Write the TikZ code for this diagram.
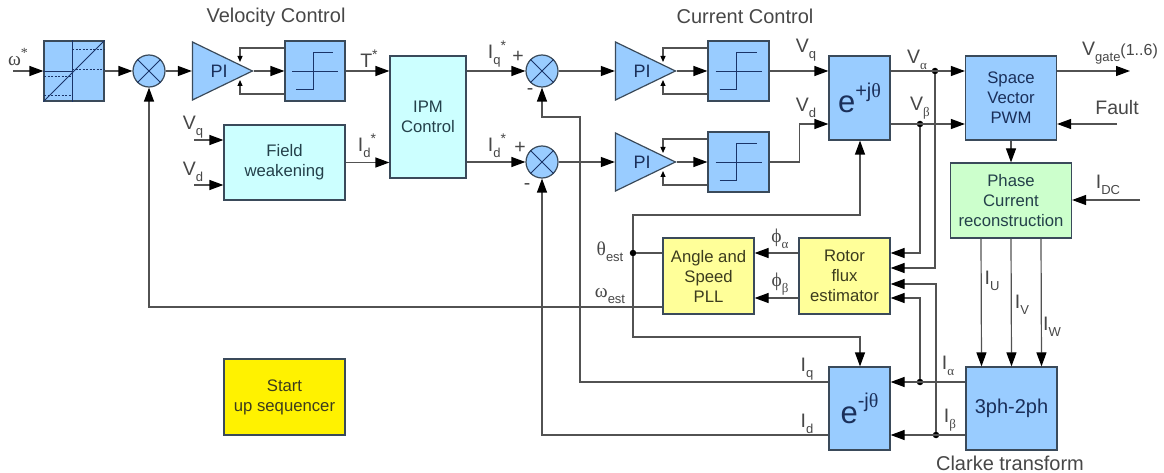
\documentclass[tikz,border=0pt]{standalone}
\usepackage{fontspec}
\setmainfont{Liberation Sans}
\newfontfamily\gk{Liberation Serif}
\usetikzlibrary{arrows.meta,shapes.geometric,calc}
\newcommand{\lsb}[1]{\raisebox{-0.3em}{\fontsize{13}{13}\selectfont #1}}
\newcommand{\lsp}[1]{\raisebox{0.4em}{\fontsize{14}{14}\selectfont #1}}
\newcommand{\stepglyph}[1]{%
  \draw[glyph] ([shift={(-23,0)}]#1.center) -- ([shift={(23,0)}]#1.center);
  \draw[glyph] ([shift={(-19,18)}]#1.center) -- ([shift={(-2,18)}]#1.center) -- ([shift={(-2,-19)}]#1.center) -- ([shift={(18,-19)}]#1.center);}
\newcommand{\sumglyph}[1]{%
  \draw[glyph,line width=.8pt] (#1.45) -- (#1.225);
  \draw[glyph,line width=.8pt] (#1.135) -- (#1.315);}
\newcommand{\pifb}[2]{%
  \draw[fbarrow] ([shift={(0,-23)}]#2.west) -| ([shift={(-14,-9)}]#1.east);
  \draw[fbarrow] ([shift={(0,23)}]#2.west) -| ([shift={(-14,9)}]#1.east);
  \draw[conn] (#1.east) -- (#2.west);}
\definecolor{blue1}{HTML}{99CCFF}
\definecolor{cyan1}{HTML}{CCFFFF}
\definecolor{yellow1}{HTML}{FFFF99}
\definecolor{green1}{HTML}{CCFFCC}
\definecolor{navy1}{HTML}{1A2F5A}
\definecolor{teal1}{HTML}{24404A}
\definecolor{olive1}{HTML}{3C3C1E}
\definecolor{edge1}{HTML}{3A4A5A}
\definecolor{ink1}{HTML}{1A3468}
\tikzset{
  x=1pt,y=-1pt,
  conn/.style={draw=black!68,line width=1.2pt,-{Triangle[length=14pt,width=10pt,color=black]}},
  plainconn/.style={draw=black!68,line width=1.2pt},
  fbarrow/.style={draw=black!68,line width=1.2pt,-{Triangle[length=6pt,width=5pt,color=black]}},
  glyph/.style={draw=ink1,line width=.9pt},
  dotted glyph/.style={draw=ink1,line width=.9pt,dash pattern=on 2pt off 1.5pt},
  bb/.style={draw=edge1,line width=1.2pt,inner sep=0pt,align=center,font=\fontsize{16.7}{20}\selectfont},
  bluebox/.style={bb,fill=blue1,text=navy1},
  cyanbox/.style={bb,fill=cyan1,text=teal1},
  yellowbox/.style={bb,fill=yellow1,text=olive1},
  greenbox/.style={bb,fill=green1,text=teal1},
  startbox/.style={bb,fill=yellow,text=olive1},
  sumnode/.style={circle,draw=edge1,line width=1.2pt,fill=blue1,minimum size=32pt,inner sep=0pt},
  pinode/.style={isosceles triangle,isosceles triangle stretches,draw=edge1,line width=1.2pt,fill=blue1,text=navy1,minimum width=58pt,minimum height=60pt,inner sep=0pt,anchor=east,font=\fontsize{18}{18}\selectfont},
  jdot/.style={circle,fill=black,minimum size=6.5pt,inner sep=0pt},
  lab/.style={text=black!72,inner sep=0pt,font=\fontsize{19.5}{20}\selectfont},
  title/.style={text=black!72,inner sep=0pt,font=\fontsize{20}{20}\selectfont},
}
\begin{document}
\begin{tikzpicture}
\useasboundingbox (0,0) rectangle (1164,473);
\fill[white] (0,0) rectangle (1164,473);

% blocks
\node[bluebox,minimum width=60pt,minimum height=60pt] (lim) at (74,71) {};
\node[sumnode] (s1) at (149,71) {};
\node[pinode] (pi1) at (254,71) {\hspace*{13pt}PI};
\node[bluebox,minimum width=60pt,minimum height=60pt] (st1) at (315,71) {};
\node[cyanbox,minimum width=76pt,minimum height=122pt] (ipm) at (428,117) {IPM\\Control};
\node[cyanbox,minimum width=121pt,minimum height=75pt] (fw) at (284.5,162.5) {Field\\weakening};
\node[sumnode] (s2) at (542,71) {};
\node[sumnode] (s3) at (542,162) {};
\node[pinode] (pi2) at (677,71) {\hspace*{13pt}PI};
\node[pinode] (pi3) at (677,162) {\hspace*{13pt}PI};
\node[bluebox,minimum width=61pt,minimum height=60pt] (st2) at (738.5,71) {};
\node[bluebox,minimum width=61pt,minimum height=60pt] (st3) at (738.5,162) {};
\node[bluebox,minimum width=61pt,minimum height=84pt] (ep) at (859.5,98) {\fontsize{31}{31}\selectfont e\raisebox{0.5em}{\fontsize{20}{20}\selectfont +j{\gk θ}}};
\node[bluebox,minimum width=91pt,minimum height=84pt] (svm) at (1011,98) {Space\\Vector\\PWM};
\node[greenbox,minimum width=121pt,minimum height=75pt] (pcr) at (1011,200.5) {Phase\\Current\\reconstruction};
\node[yellowbox,minimum width=91pt,minimum height=76pt] (pll) at (708.5,276) {Angle and\\Speed\\PLL};
\node[yellowbox,minimum width=91pt,minimum height=76pt] (rfe) at (844.5,276) {Rotor\\flux\\estimator};
\node[bluebox,minimum width=61pt,minimum height=83pt] (em) at (859.5,408.5) {\fontsize{31}{31}\selectfont e\raisebox{0.5em}{\fontsize{20}{20}\selectfont -j{\gk θ}}};
\node[bluebox,minimum width=91pt,minimum height=83pt] (cl) at (1011.5,408.5) {\fontsize{20}{20}\selectfont 3ph-2ph};
\node[startbox,minimum width=121pt,minimum height=76pt] (start) at (284.5,397) {Start\\up sequencer};

% glyphs
\sumglyph{s1}\sumglyph{s2}\sumglyph{s3}
\stepglyph{st1}\stepglyph{st2}\stepglyph{st3}
\draw[glyph] ([shift={(-2,0)}]lim.north) -- ([shift={(-2,0)}]lim.south);
\draw[glyph] (lim.west) -- (lim.center);
\draw[glyph] (lim.south west) -- (lim.north east);
\draw[dotted glyph] ([shift={(-2,-22)}]lim.center) -- ([shift={(30,-22)}]lim.center);
\draw[dotted glyph] ([shift={(-2,-2)}]lim.center) -- ([shift={(30,-2)}]lim.center);
\draw[dotted glyph] ([shift={(-30,5)}]lim.center) -- ([shift={(-2,5)}]lim.center);
\draw[dotted glyph] ([shift={(-30,24)}]lim.center) -- ([shift={(-2,24)}]lim.center);

% free ends and junctions
\coordinate (wIn) at (13,71);
\coordinate (vqIn) at (194,140);
\coordinate (vdIn) at (194,185);
\coordinate (gateOut) at (1130,71);
\coordinate (faultIn) at (1117,124);
\coordinate (idcIn) at (1140,200);
\node[jdot] (jva) at (935,71) {};
\node[jdot] (jvb) at (920,124) {};
\node[jdot] (jth) at (633,253) {};
\node[jdot] (jia) at (920,382) {};
\node[jdot] (jib) at (936,435) {};

% connectors
\draw[conn] (wIn) -- (lim.west);
\draw[conn] (lim.east) -- (s1.west);
\draw[conn] (s1.east) -- (pi1.lower side);
\pifb{pi1}{st1}
\draw[conn] (st1.east) -- (ipm.west |- st1.east);
\draw[conn] (vqIn) -- (fw.west |- vqIn);
\draw[conn] (vdIn) -- (fw.west |- vdIn);
\draw[conn] (fw.east) -- (ipm.west |- fw.east);
\draw[conn] (ipm.east |- s2) -- (s2.west);
\draw[conn] (ipm.east |- s3) -- (s3.west);
\draw[conn] (s2.east) -- (pi2.lower side);
\draw[conn] (s3.east) -- (pi3.lower side);
\pifb{pi2}{st2}
\pifb{pi3}{st3}
\draw[conn] (st2.east) -- (ep.west |- st2.east);
\draw[conn] (st3.east) -- ++(30,0) |- (ep.west |- jvb);
\draw[conn] (ep.east |- jva) -- (svm.west |- jva);
\draw[conn] (ep.east |- jvb) -- (svm.west |- jvb);
\draw[conn] (svm.east |- gateOut) -- (gateOut);
\draw[conn] (faultIn) -- (svm.east |- faultIn);
\draw[conn] (svm.south) -- (pcr.north);
\draw[conn] (idcIn) -- (pcr.east |- idcIn);
\foreach \xo in {-30,0,30} {
  \draw[conn] ([xshift=\xo pt]pcr.south) -- ([xshift=\xo pt]cl.north);
}
\draw[conn] (cl.west |- jia) -- (em.east |- jia);
\draw[conn] (cl.west |- jib) -- (em.east |- jib);
\draw[conn] (jvb) |- (rfe.east |- 0,253);
\draw[conn] (jva) |- (rfe.east |- 0,268);
\draw[conn] (jib) |- (rfe.east |- 0,284);
\draw[conn] (jia) |- (rfe.east |- 0,298);
\draw[conn] (rfe.west |- 0,253) -- (pll.east |- 0,253);
\draw[conn] (rfe.west |- 0,298) -- (pll.east |- 0,298);
\draw[plainconn] (pll.west |- jth) -- (jth);
\draw[conn] (jth) -- (633,215) -| (ep.south -| 860,0);
\draw[conn] (jth) -- (633,337) -| (em.north -| 860,0);
\draw[conn] (pll.west |- 0,307) -| (s1.south);
\draw[conn] (em.west |- jia) -| (580,117) -| (s2.south);
\draw[conn] (em.west |- jib) -| (s3.south);

% labels
\node[title] (tv) at (276,17) {Velocity Control};
\node[title] (tc) at (745,16) {Current Control};
\node[lab] (lw) at (18,57) {\gk ω\lsp{*}};
\node[lab] (lt) at (369,59) {T\lsp{*}};
\node[lab] (lvq1) at (193,127) {V\lsb{q}};
\node[lab] (lvd1) at (193,172) {V\lsb{d}};
\node[lab] (lid1) at (367,146) {I\lsb{d}\lsp{*}};
\node[lab] (liq2) at (497,54) {I\lsb{q}\lsp{*}};
\node[lab] (lid2) at (497,146) {I\lsb{d}\lsp{*}};
\node[lab] (lp1) at (518,57) {+};
\node[lab] (lp2) at (520,148) {+};
\node[lab] (lm1) at (530,92) {-};
\node[lab] (lm2) at (527,187) {-};
\node[lab] (lvq2) at (806,50) {V\lsb{q}};
\node[lab] (lvd2) at (806,108) {V\lsb{d}};
\node[lab] (lva) at (917,60) {V\lsb{\gk α}};
\node[lab] (lvb) at (920,108) {V\lsb{\gk β}};
\node[lab] (lvg) at (1120,53) {V\lsb{gate}{\fontsize{16}{16}\selectfont(1..6)}};
\node[lab] (lf) at (1117,108) {Fault};
\node[lab] (lidc) at (1108,185) {I\lsb{DC}};
\node[lab] (lth) at (610,252) {\gk θ\lsb{\rmfamily est}};
\node[lab] (lwe) at (610,296) {\gk ω\lsb{\rmfamily est}};
\node[lab] (lpa) at (780,239) {\gk ϕ\lsb{α}};
\node[lab] (lpb) at (780,284) {\gk ϕ\lsb{β}};
\node[lab] (liq) at (807,369) {I\lsb{q}};
\node[lab] (lid) at (807,424) {I\lsb{d}};
\node[lab] (lia) at (948,366) {I\lsb{\gk α}};
\node[lab] (lib) at (950,420) {I\lsb{\gk β}};
\node[lab] (liu) at (992,281) {I\lsb{U}};
\node[lab] (liv) at (1022,305) {I\lsb{V}};
\node[lab] (liw) at (1052,327) {I\lsb{W}};
\node[title] (lcl) at (1010,463) {Clarke transform};
\end{tikzpicture}
\end{document}
